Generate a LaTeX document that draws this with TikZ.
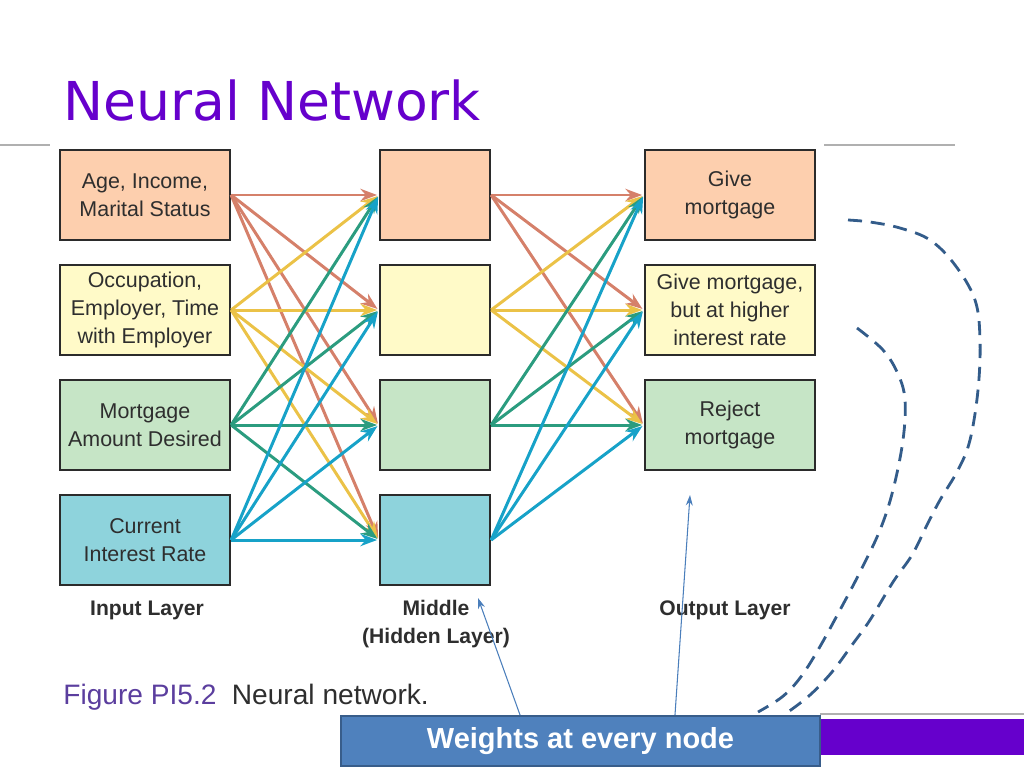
\documentclass[tikz,border=0pt]{standalone}
\usepackage{fontspec}
\setmainfont{Liberation Sans}
\newfontfamily\titlefont{DejaVu Sans}
\usetikzlibrary{arrows.meta}
\definecolor{titlepurple}{HTML}{6600CC}
\definecolor{figpurple}{HTML}{5B3E9E}
\definecolor{textgray}{HTML}{2E2E2E}
\definecolor{boxline}{HTML}{2B2B2B}
\definecolor{peach}{HTML}{FDCFAE}
\definecolor{cream}{HTML}{FFFAC8}
\definecolor{mint}{HTML}{C6E5C6}
\definecolor{aqua}{HTML}{8ED3DC}
\definecolor{linkred}{HTML}{D5806A}
\definecolor{linkyel}{HTML}{EBC247}
\definecolor{linkgrn}{HTML}{2B9C7F}
\definecolor{linkblu}{HTML}{17A2C8}
\definecolor{wfill}{HTML}{4F81BD}
\definecolor{wbord}{HTML}{385D8A}
\definecolor{notebl}{HTML}{4A7EBB}
\definecolor{dashbl}{HTML}{335C8A}
\definecolor{rulegray}{HTML}{B0B0B0}
\begin{document}
\begin{tikzpicture}[x=0.02cm,y=-0.02cm,
  unit/.style={draw=boxline,line width=1.3pt,minimum height=1.8cm,align=center,
    font=\fontsize{12.2}{16}\selectfont,text=textgray},
  wide/.style={unit,minimum width=3.4cm},
  narrow/.style={unit,minimum width=2.2cm},
  link/.style={line width=1.7pt,-{Stealth[length=9.5pt,width=7pt]},shorten >=1pt},
  layer/.style={font=\fontsize{12}{16}\selectfont\bfseries,text=textgray,align=center},
  note/.style={notebl,line width=0.6pt,-{Stealth[length=6pt,width=4pt]}},
  curl/.style={dashbl,line width=1.6pt,dash pattern=on 8pt off 5pt},
  rule/.style={rulegray,line width=1.6pt}]
\useasboundingbox (0,0) rectangle (1024,768);
% title and rules
\node[anchor=base west,inner sep=0,font=\titlefont\fontsize{30.5}{36}\selectfont,text=titlepurple] (title) at (63,120) {Neural Network};
\draw[rule] (0,145) -- (50,145);
\draw[rule] (824,145) -- (955,145);
% input layer
\node[wide,fill=peach] (in1) at (145,195) {Age, Income,\\Marital Status};
\node[wide,fill=cream] (in2) at (145,310) {Occupation,\\Employer, Time\\with Employer};
\node[wide,fill=mint] (in3) at (145,425) {Mortgage\\Amount Desired};
\node[wide,fill=aqua] (in4) at (145,540) {Current\\Interest Rate};
% hidden layer
\node[narrow,fill=peach] (mid1) at (435,195) {};
\node[narrow,fill=cream] (mid2) at (435,310) {};
\node[narrow,fill=mint] (mid3) at (435,425) {};
\node[narrow,fill=aqua] (mid4) at (435,540) {};
% output layer
\node[wide,fill=peach] (out1) at (730,195) {Give\\mortgage};
\node[wide,fill=cream] (out2) at (730,310) {Give mortgage,\\but at higher\\interest rate};
\node[wide,fill=mint] (out3) at (730,425) {Reject\\mortgage};
% weights
\foreach \s/\c in {1/linkred,2/linkyel,3/linkgrn,4/linkblu}{
  \foreach \t in {1,...,4} \draw[link,\c] (in\s.east) -- (mid\t.west);
  \foreach \t in {1,2,3} \draw[link,\c] (mid\s.east) -- (out\t.west);
}
\node[layer] (inlab) at (147,610) {Input Layer};
\node[layer] (midlab) at (436,624) {Middle\\(Hidden Layer)};
\node[layer] (outlab) at (725,610) {Output Layer};
\node[anchor=base west,inner sep=0,font=\fontsize{16}{19}\selectfont] (cap) at (63,704)
  {\textcolor{figpurple}{Figure PI5.2}\hspace{0.55em}\textcolor{textgray}{Neural network.}};
% footer bar
\draw[rule] (820,714) -- (1024,714);
\fill[titlepurple] (820,719) rectangle (1024,755);
\node[draw=wbord,fill=wfill,line width=1.2pt,minimum width=9.58cm,minimum height=1.0cm,
  font=\fontsize{16.5}{20}\selectfont\bfseries,text=white] (weights) at (580.5,741) {Weights at every node};
\coordinate (hidtip) at (478,598);
\coordinate (outtip) at (690,495);
\draw[note] ([xshift=-1.21cm]weights.north) -- (hidtip);
\draw[note] ([xshift=1.89cm]weights.north) -- (outtip);
% dashed brackets
\draw[curl] plot[smooth,tension=0.6] coordinates {(848,220) (870,222) (900,228) (930,240) (955,265) (975,300) (980,340) (978,390) (970,440) (958,470) (940,500) (927,525) (912,555) (893,582) (870,620) (852,645) (832,672) (810,695) (788,712)};
\draw[curl] plot[smooth,tension=0.6] coordinates {(857,328) (883,350) (898,374) (905,400) (903,440) (893,490) (880,530) (860,572) (840,610) (818,650) (800,678) (782,697) (758,712)};
\end{tikzpicture}
\end{document}
